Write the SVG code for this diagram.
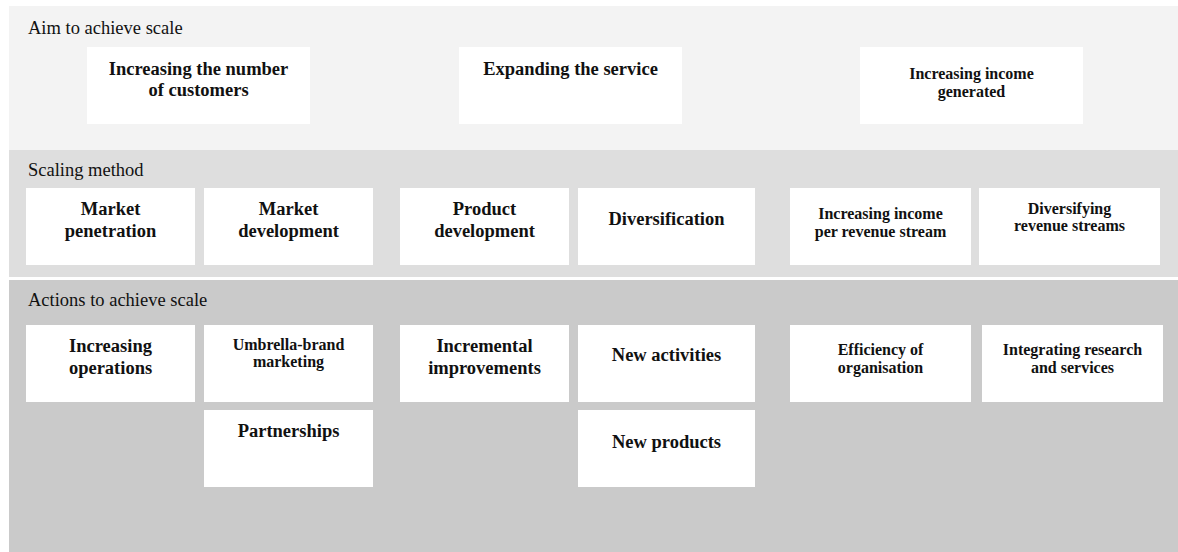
<svg xmlns="http://www.w3.org/2000/svg" width="1178" height="552" viewBox="0 0 1178 552">
<style>
.band1{fill:#f3f3f3}
.band2{fill:#dedede}
.band3{fill:#cacaca}
.box{fill:#ffffff}
.lbl{font-family:"Liberation Serif","Times New Roman",serif;font-size:18.5px;fill:#111}
.t{font-family:"Liberation Serif","Times New Roman",serif;font-weight:bold;font-size:18.5px;fill:#111;text-anchor:middle}
.s{font-size:16px}
</style>
<rect width="1178" height="552" fill="#ffffff"/>
<g id="bands">
<rect class="band1" x="9" y="6" width="1169" height="144"/>
<rect class="band2" x="9" y="150" width="1169" height="127"/>
<rect class="band3" x="9" y="280" width="1169" height="272"/>
<text class="lbl" x="28" y="34">Aim to achieve scale</text>
<text class="lbl" x="28" y="176">Scaling method</text>
<text class="lbl" x="28" y="306">Actions to achieve scale</text>
</g>
<g id="connectors"></g>
<g id="aim-customers"><rect class="box" x="87" y="47" width="223" height="77"/><text class="t" x="198.5" y="74.5">Increasing the number</text><text class="t" x="198.5" y="96">of customers</text></g>
<g id="aim-service"><rect class="box" x="459" y="47" width="223" height="77"/><text class="t" x="570.5" y="75">Expanding the service</text></g>
<g id="aim-income"><rect class="box" x="860" y="47" width="223" height="77"/><text class="t s" x="971.5" y="79">Increasing income</text><text class="t s" x="971.5" y="96.5">generated</text></g>
<g id="m-penetration"><rect class="box" x="26" y="188" width="169" height="77"/><text class="t" x="110.5" y="215">Market</text><text class="t" x="110.5" y="237">penetration</text></g>
<g id="m-development"><rect class="box" x="204" y="188" width="169" height="77"/><text class="t" x="288.5" y="215">Market</text><text class="t" x="288.5" y="237">development</text></g>
<g id="p-development"><rect class="box" x="400" y="188" width="169" height="77"/><text class="t" x="484.5" y="215">Product</text><text class="t" x="484.5" y="237">development</text></g>
<g id="diversification"><rect class="box" x="578" y="188" width="177" height="77"/><text class="t" x="666.5" y="225">Diversification</text></g>
<g id="income-per-stream"><rect class="box" x="790" y="188" width="181" height="77"/><text class="t s" x="880.5" y="219">Increasing income</text><text class="t s" x="880.5" y="236.5">per revenue stream</text></g>
<g id="diversifying-streams"><rect class="box" x="979" y="188" width="181" height="77"/><text class="t s" x="1069.5" y="213.5">Diversifying</text><text class="t s" x="1069.5" y="231">revenue streams</text></g>
<g id="a-operations"><rect class="box" x="26" y="325" width="169" height="77"/><text class="t" x="110.5" y="352">Increasing</text><text class="t" x="110.5" y="374">operations</text></g>
<g id="a-umbrella"><rect class="box" x="204" y="325" width="169" height="77"/><text class="t s" x="288.5" y="349.5">Umbrella-brand</text><text class="t s" x="288.5" y="367">marketing</text></g>
<g id="a-incremental"><rect class="box" x="400" y="325" width="169" height="77"/><text class="t" x="484.5" y="352">Incremental</text><text class="t" x="484.5" y="374">improvements</text></g>
<g id="a-activities"><rect class="box" x="578" y="325" width="177" height="77"/><text class="t" x="666.5" y="361">New activities</text></g>
<g id="a-efficiency"><rect class="box" x="790" y="325" width="181" height="77"/><text class="t s" x="880.5" y="355">Efficiency of</text><text class="t s" x="880.5" y="373">organisation</text></g>
<g id="a-integrating"><rect class="box" x="982" y="325" width="181" height="77"/><text class="t s" x="1072.5" y="355">Integrating research</text><text class="t s" x="1072.5" y="373">and services</text></g>
<g id="a-partnerships"><rect class="box" x="204" y="410" width="169" height="77"/><text class="t" x="288.5" y="436.5">Partnerships</text></g>
<g id="a-products"><rect class="box" x="578" y="410" width="177" height="77"/><text class="t" x="666.5" y="448">New products</text></g>
</svg>
